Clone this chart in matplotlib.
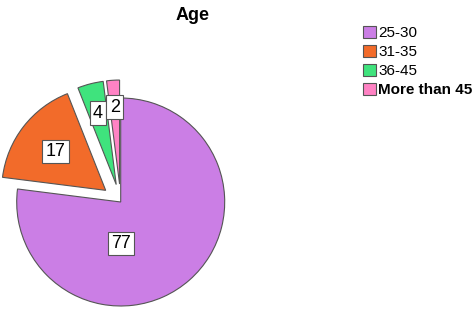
import matplotlib.pyplot as plt
import numpy as np

plt.rcParams['font.family'] = ['Liberation Sans', 'DejaVu Sans']

categories = ['25-30', '31-35', '36-45', 'More than 45']
values = [77, 17, 4, 2]
colors = ['#CB7EE5', '#F26B2A', '#3FE37D', '#FF82C4']

# pixel based axes so geometry matches the picture
fig = plt.figure(figsize=(4.77, 3.12), dpi=100)
ax = fig.add_axes([0, 0, 1, 1])

r = 104
cx, cy = 120.7, 312 - 202
explode = [0, 19, 18, 18]

wedges, _ = ax.pie(values, colors=colors, radius=r, center=(cx, cy),
                   startangle=90, counterclock=False, explode=explode,
                   wedgeprops=dict(edgecolor='#555555', linewidth=0.8),
                   frame=True)
ax.set_xlim(0, 477)
ax.set_ylim(0, 312)
ax.set_aspect('equal')
ax.axis('off')

# label distance (fraction of radius) and angle override per slice
lab_dist = [0.40, 0.61, 0.71, 0.74]
lab_ang = [-90, None, None, None]
for w, v, d, a in zip(wedges, values, lab_dist, lab_ang):
    ang = a if a is not None else (w.theta1 + w.theta2) / 2
    x = w.center[0] + d * r * np.cos(np.radians(ang))
    y = w.center[1] + d * r * np.sin(np.radians(ang))
    ax.text(x, y, str(v), ha='center', va='center', fontsize=13,
            bbox=dict(boxstyle='square,pad=0.18', fc='white', ec='#555555', lw=0.8))

fig.text(193 / 477, 1 - 15 / 312, 'Age', ha='center', va='center',
         fontsize=13, fontweight='bold')

leg = fig.legend(wedges, categories, loc='upper left',
                 bbox_to_anchor=(352 / 477, 1 - 15 / 312), frameon=False,
                 fontsize=11, handlelength=0.85, handleheight=0.85,
                 handletextpad=0.15, labelspacing=0.3, borderpad=0.2)
for h in leg.legend_handles:
    h.set_edgecolor('#555555')
    h.set_linewidth(0.8)
leg.get_texts()[-1].set_fontweight('bold')

fig.savefig('out.png', dpi=100)
